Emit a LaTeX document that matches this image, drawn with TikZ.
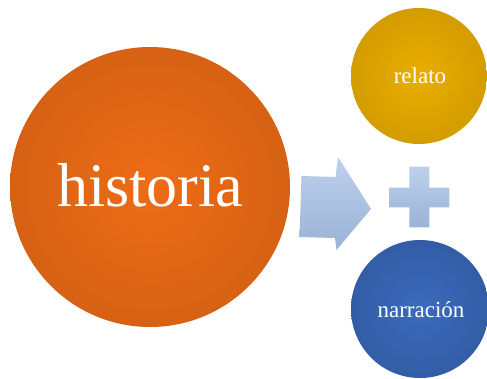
\documentclass[tikz,border=0pt]{standalone}
\usepackage{fontspec}
\setmainfont{Liberation Serif}
\definecolor{orIn}{HTML}{EE6C16}
\definecolor{orOut}{HTML}{C65A12}
\definecolor{goIn}{HTML}{EAAE00}
\definecolor{goOut}{HTML}{C39000}
\definecolor{blIn}{HTML}{3B6BBD}
\definecolor{blOut}{HTML}{2D5396}
\definecolor{arTop}{HTML}{BCD1EC}
\definecolor{arBot}{HTML}{9AB2D6}
\pgfdeclareradialshading{orShade}{\pgfpoint{0bp}{0bp}}{color(0bp)=(orIn); color(42bp)=(orOut); color(100bp)=(orOut)}
\pgfdeclareradialshading{goShade}{\pgfpoint{0bp}{0bp}}{color(0bp)=(goIn); color(42bp)=(goOut); color(100bp)=(goOut)}
\pgfdeclareradialshading{blShade}{\pgfpoint{0bp}{0bp}}{color(0bp)=(blIn); color(42bp)=(blOut); color(100bp)=(blOut)}
\begin{document}
\begin{tikzpicture}[x=1pt,y=-1pt,
  bubble/.style={circle,inner sep=0pt,text=white},
  pale/.style={top color=arTop,bottom color=arBot,draw=none}]
\useasboundingbox (0,0) rectangle (487,378);
\node[bubble,minimum size=280pt,shading=orShade] (hist) at (150,187) {};
\node[bubble,minimum size=136pt,shading=goShade] (rel) at (419,76) {};
\node[bubble,minimum size=138pt,shading=blShade] (nar) at (420,309) {};
\node[text=white,anchor=base,font=\fontsize{62}{62}\selectfont] (histT) at (150,206) {historia};
\node[text=white,anchor=base,font=\fontsize{23}{23}\selectfont] (relT) at (420,83) {relato};
\node[text=white,anchor=base,font=\fontsize{23}{23}\selectfont] (narT) at (421,317) {narración};
\path[pale] (301.5,176) -- (335.5,177) -- (338,157) -- (371,209) -- (336.5,250) -- (335,238) -- (299.5,237) -- cycle;
\path[pale] (409.3,166.7) -- (429.3,166.7) -- (429.3,187.7) -- (449.3,187.7) -- (449.3,207.3) -- (429.3,207.3) -- (429.3,227.3) -- (409.3,227.3) -- (409.3,207.3) -- (389.3,207.3) -- (389.3,187.7) -- (409.3,187.7) -- cycle;
\end{tikzpicture}
\end{document}
